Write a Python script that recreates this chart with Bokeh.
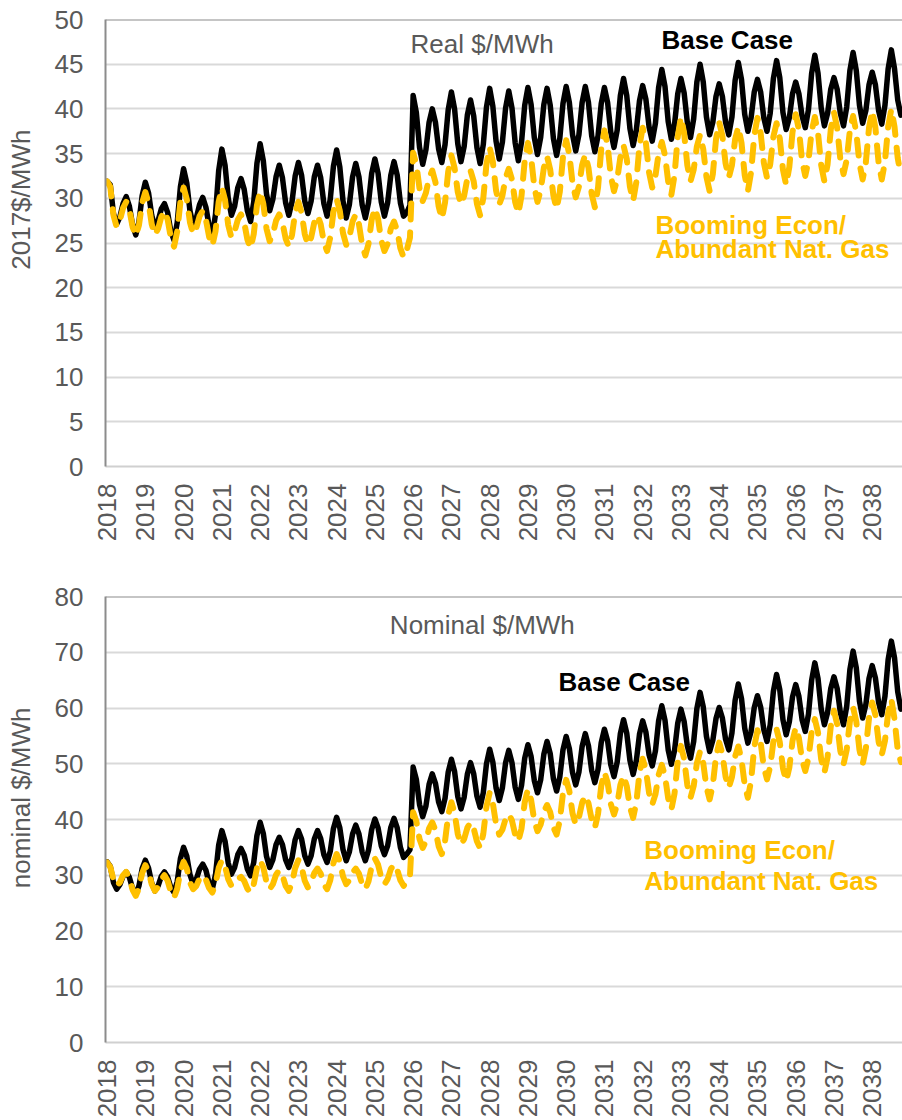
from math import pi
from bokeh.plotting import figure
from bokeh.layouts import column
from bokeh.models import Range1d, FixedTicker, Label, Span
from bokeh.embed import file_html
from bokeh.resources import INLINE

# ---------------- data (monthly, Jan 2018 .. Oct 2038) ----------------
years = ["2018", "2019", "2020", "2021", "2022", "2023", "2024", "2025", "2026", "2027",
         "2028", "2029", "2030", "2031", "2032", "2033", "2034", "2035", "2036", "2037", "2038"]

base_real = [
    31.9, 31.5, 28.3, 27.1, 27.9, 29.4, 30.2, 29.1, 27.0, 25.9, 27.4, 30.3,
    31.8, 30.6, 28.1, 26.8, 27.5, 28.8, 29.4, 28.4, 26.3, 25.3, 27.3, 31.3,
    33.3, 31.7, 28.6, 27.0, 27.8, 29.3, 30.1, 29.0, 26.9, 25.8, 28.2, 33.1,
    35.5, 33.7, 30.0, 28.1, 29.1, 31.2, 32.2, 31.0, 28.6, 27.4, 29.6, 33.9,
    36.1, 34.2, 30.5, 28.6, 29.9, 32.4, 33.7, 32.3, 29.5, 28.1, 29.6, 32.5,
    34.0, 32.6, 29.7, 28.3, 29.7, 32.4, 33.7, 32.3, 29.4, 28.0, 29.9, 33.6,
    35.4, 33.5, 29.7, 27.8, 29.3, 32.4, 33.9, 32.4, 29.3, 27.8, 29.5, 32.8,
    34.4, 32.8, 29.6, 28.0, 29.5, 32.6, 34.1, 32.6, 29.5, 28.0, 28.4, 29.2,
    41.5, 39.6, 35.7, 33.8, 35.4, 38.5, 40.0, 38.5, 35.5, 34.0, 36.0, 39.9,
    41.9, 40.0, 36.1, 34.1, 35.8, 39.3, 41.0, 39.2, 35.7, 33.9, 36.0, 40.2,
    42.3, 40.3, 36.4, 34.4, 36.3, 40.1, 42.0, 40.1, 36.2, 34.2, 36.3, 40.4,
    42.4, 40.5, 36.8, 34.9, 36.8, 40.5, 42.3, 40.4, 36.7, 34.8, 36.7, 40.6,
    42.5, 40.7, 37.1, 35.3, 37.1, 40.7, 42.5, 40.7, 37.0, 35.2, 37.0, 40.6,
    42.4, 40.7, 37.4, 35.7, 37.6, 41.5, 43.4, 41.5, 37.8, 35.9, 37.6, 40.9,
    42.6, 41.1, 38.0, 36.4, 38.4, 42.4, 44.4, 42.5, 38.6, 36.6, 38.3, 41.7,
    43.4, 41.8, 38.5, 36.8, 38.9, 43.0, 45.0, 43.0, 39.1, 37.1, 38.5, 41.4,
    42.8, 41.4, 38.5, 37.1, 39.1, 43.2, 45.2, 43.3, 39.4, 37.5, 39.0, 41.9,
    43.3, 41.9, 39.0, 37.5, 39.5, 43.4, 45.4, 43.5, 39.6, 37.7, 39.0, 41.7,
    43.0, 41.7, 39.2, 37.9, 39.9, 44.0, 46.0, 44.0, 40.1, 38.1, 39.5, 42.2,
    43.5, 42.2, 39.5, 38.1, 40.2, 44.3, 46.3, 44.3, 40.4, 38.4, 39.8, 42.7,
    44.1, 42.7, 39.8, 38.3, 40.4, 44.5, 46.6, 44.5, 41.0, 39.3,
]

boom_real = [
    31.9, 31.3, 28.1, 26.8, 27.5, 28.9, 29.6, 28.7, 26.8, 25.8, 27.0, 29.5,
    30.7, 29.5, 27.1, 25.9, 26.6, 27.9, 28.6, 27.6, 25.6, 24.6, 26.3, 29.6,
    31.2, 29.9, 27.3, 26.0, 26.7, 28.0, 28.6, 27.6, 25.7, 24.7, 26.3, 29.6,
    31.2, 29.8, 27.0, 25.6, 26.3, 27.6, 28.2, 27.3, 25.4, 24.4, 26.0, 29.2,
    30.8, 29.4, 26.6, 25.2, 26.0, 27.5, 28.2, 27.3, 25.5, 24.6, 25.9, 28.4,
    29.6, 28.4, 26.0, 24.8, 25.6, 27.3, 28.1, 27.1, 25.1, 24.1, 25.6, 28.5,
    29.9, 28.6, 26.1, 24.8, 25.7, 27.4, 28.2, 27.1, 24.8, 23.6, 24.9, 27.6,
    28.9, 27.7, 25.3, 24.1, 24.9, 26.6, 27.4, 26.4, 24.4, 23.4, 24.2, 25.6,
    35.1, 33.8, 31.1, 29.7, 30.6, 32.3, 33.1, 31.8, 29.1, 27.7, 29.5, 33.0,
    34.8, 33.4, 30.7, 29.3, 30.3, 32.2, 33.1, 31.9, 29.4, 28.1, 30.0, 33.8,
    35.7, 34.1, 30.9, 29.3, 30.3, 32.3, 33.3, 32.1, 29.6, 28.3, 30.3, 34.2,
    36.2, 34.6, 31.3, 29.6, 30.9, 33.4, 34.7, 33.2, 30.3, 28.8, 30.7, 34.6,
    36.5, 34.9, 31.7, 30.1, 31.3, 33.7, 34.9, 33.4, 30.5, 29.0, 31.2, 35.5,
    37.6, 35.9, 32.5, 30.8, 32.1, 34.6, 35.9, 34.4, 31.3, 29.7, 31.8, 35.9,
    37.9, 36.2, 32.9, 31.2, 32.5, 35.0, 36.3, 34.8, 31.9, 30.4, 32.6, 36.9,
    39.1, 37.3, 33.7, 31.9, 33.2, 35.8, 37.1, 35.5, 32.4, 30.8, 32.7, 36.6,
    38.5, 37.0, 33.9, 32.3, 33.7, 36.6, 38.0, 36.2, 32.6, 30.8, 32.9, 37.0,
    39.0, 37.3, 34.0, 32.3, 33.8, 36.9, 38.4, 36.7, 33.2, 31.5, 33.5, 37.4,
    39.4, 37.7, 34.2, 32.5, 34.2, 37.5, 39.1, 37.3, 33.7, 31.9, 33.8, 37.7,
    39.6, 37.9, 34.4, 32.7, 34.3, 37.6, 39.2, 37.4, 33.9, 32.1, 34.0, 37.9,
    39.8, 37.9, 34.0, 32.1, 34.1, 38.0, 40.0, 38.0, 34.5, 32.5,
]

base_nominal = [
    32.4, 31.6, 28.7, 27.5, 28.3, 29.8, 30.6, 29.6, 27.6, 26.6, 28.1, 31.2,
    32.7, 31.3, 28.6, 27.2, 28.1, 29.8, 30.6, 29.7, 27.8, 26.9, 28.9, 33.0,
    35.0, 33.4, 30.1, 28.4, 29.3, 31.1, 32.0, 30.9, 28.6, 27.5, 30.1, 35.4,
    38.0, 36.1, 32.2, 30.2, 31.4, 33.7, 34.8, 33.6, 31.1, 29.9, 32.3, 37.1,
    39.5, 37.5, 33.4, 31.4, 32.8, 35.5, 36.8, 35.5, 32.8, 31.4, 33.1, 36.4,
    38.0, 36.5, 33.5, 32.0, 33.5, 36.5, 38.0, 36.6, 33.7, 32.3, 34.3, 38.4,
    40.4, 38.5, 34.6, 32.6, 34.2, 37.4, 39.0, 37.4, 34.2, 32.6, 34.5, 38.2,
    40.1, 38.5, 35.3, 33.7, 35.3, 38.6, 40.2, 38.5, 35.0, 33.2, 33.8, 34.6,
    49.4, 47.2, 42.7, 40.5, 42.4, 46.3, 48.2, 46.5, 43.1, 41.4, 43.8, 48.5,
    50.8, 48.6, 44.1, 41.9, 44.0, 48.1, 50.2, 48.2, 44.2, 42.2, 44.8, 50.0,
    52.6, 50.3, 45.7, 43.4, 45.7, 50.2, 52.4, 50.2, 45.8, 43.6, 46.1, 51.0,
    53.4, 51.3, 47.0, 44.8, 47.1, 51.7, 54.0, 51.8, 47.3, 45.1, 47.6, 52.5,
    54.9, 52.7, 48.4, 46.2, 48.5, 53.1, 55.4, 53.2, 48.8, 46.6, 49.0, 53.8,
    56.2, 54.1, 49.8, 47.7, 50.3, 55.4, 57.9, 55.5, 50.6, 48.1, 50.5, 55.3,
    57.7, 55.7, 51.6, 49.6, 52.3, 57.7, 60.4, 57.8, 52.5, 49.9, 52.4, 57.3,
    59.8, 57.6, 53.2, 51.0, 54.0, 59.9, 62.8, 60.2, 54.9, 52.2, 54.2, 58.1,
    60.1, 58.2, 54.4, 52.5, 55.5, 61.4, 64.3, 61.7, 56.4, 53.7, 55.8, 60.1,
    62.2, 60.2, 56.1, 54.0, 57.0, 63.0, 66.0, 63.3, 57.9, 55.2, 57.5, 62.0,
    64.2, 62.1, 57.9, 55.8, 58.9, 65.0, 68.1, 65.3, 59.8, 57.0, 59.2, 63.5,
    65.6, 63.5, 59.2, 57.0, 60.3, 66.9, 70.2, 67.2, 61.2, 58.2, 60.6, 65.3,
    67.6, 65.4, 61.0, 58.8, 62.1, 68.7, 72.0, 69.0, 62.9, 59.8,
]

boom_nominal = [
    32.3, 31.5, 29.2, 28.1, 28.7, 30.0, 30.6, 29.5, 27.4, 26.3, 27.7, 30.4,
    31.8, 30.7, 28.4, 27.2, 27.9, 29.3, 30.0, 29.0, 27.0, 26.0, 27.6, 30.8,
    32.4, 31.2, 28.7, 27.5, 28.1, 29.4, 30.0, 29.2, 27.7, 26.9, 28.4, 31.3,
    32.7, 31.6, 29.3, 28.1, 28.5, 29.3, 29.7, 29.0, 27.6, 26.9, 28.4, 31.3,
    32.7, 31.4, 28.8, 27.5, 28.4, 30.1, 30.9, 30.0, 28.1, 27.2, 28.6, 31.3,
    32.7, 31.5, 29.0, 27.8, 28.7, 30.4, 31.2, 30.3, 28.4, 27.5, 29.1, 32.2,
    33.8, 32.5, 29.8, 28.4, 29.1, 30.5, 31.2, 30.3, 28.4, 27.5, 28.9, 31.6,
    33.0, 31.9, 29.6, 28.4, 29.3, 31.1, 32.0, 31.0, 29.1, 28.1, 28.8, 29.8,
    41.3, 39.7, 36.5, 34.9, 36.1, 38.4, 39.5, 38.1, 35.2, 33.8, 36.1, 40.8,
    43.1, 41.2, 37.4, 35.5, 36.5, 38.5, 39.5, 38.4, 36.1, 34.9, 37.4, 42.3,
    44.8, 42.9, 39.2, 37.3, 38.2, 40.1, 41.0, 39.8, 37.3, 36.1, 38.4, 43.1,
    45.4, 43.5, 39.8, 37.9, 39.1, 41.4, 42.6, 41.3, 38.6, 37.3, 39.8, 44.7,
    47.1, 45.1, 41.1, 39.1, 40.4, 43.0, 44.3, 42.9, 40.0, 38.5, 41.0, 46.0,
    48.5, 46.6, 42.8, 40.9, 42.7, 46.2, 47.9, 46.0, 42.2, 40.3, 43.0, 48.3,
    50.9, 48.9, 44.8, 42.7, 44.5, 48.0, 49.8, 47.8, 43.8, 41.8, 44.7, 50.4,
    53.2, 50.9, 46.2, 43.9, 46.0, 50.1, 52.2, 50.1, 45.8, 43.6, 46.2, 51.3,
    53.8, 51.8, 47.7, 45.7, 47.6, 51.3, 53.1, 50.8, 46.2, 43.9, 46.9, 53.0,
    56.0, 53.8, 49.4, 47.2, 49.5, 54.0, 56.2, 53.9, 49.2, 46.9, 49.3, 54.1,
    56.5, 54.6, 50.7, 48.7, 51.0, 55.7, 58.0, 55.6, 50.8, 48.4, 51.2, 56.7,
    59.5, 57.1, 52.3, 49.9, 52.5, 57.6, 60.1, 57.6, 52.5, 49.9, 52.7, 58.2,
    61.0, 58.7, 54.0, 51.6, 54.1, 59.1, 61.6, 58.0, 52.5, 50.3,
]

month_index = list(range(len(base_real)))
year_ticks = [12 * k for k in range(len(years))]

# ---------------- styling ----------------
FONT = "Liberation Sans"
GRAY_TXT = "#595959"
GOLD = "#FFC000"
FS = "26px"
NB = "\u00a0"


def make_panel(height, border_left, border_top, border_bottom, ymax, ystep,
               ylabel, title_txt, title_pos, base_pos, boom_pos,
               base_y, boom_y, x_standoff):
    p = figure(width=902, height=height, output_backend="svg", toolbar_location=None,
               x_range=Range1d(-0.5, len(base_y) - 0.5), y_range=Range1d(0, ymax),
               min_border_left=border_left, min_border_right=0,
               min_border_top=border_top, min_border_bottom=border_bottom)
    p.outline_line_color = None
    p.background_fill_color = "white"
    p.border_fill_color = "white"
    p.xgrid.visible = False
    p.ygrid.grid_line_color = "#D9D9D9"
    p.ygrid.grid_line_width = 2
    p.yaxis.ticker = FixedTicker(ticks=list(range(0, ymax + 1, ystep)))
    p.xaxis.ticker = FixedTicker(ticks=year_ticks)
    p.xaxis.major_label_overrides = {t: y for t, y in zip(year_ticks, years)}
    p.xaxis.major_label_orientation = pi / 2
    for ax in (p.xaxis[0], p.yaxis[0]):
        ax.major_tick_out = 0
        ax.major_tick_in = 0
        ax.minor_tick_out = 0
        ax.minor_tick_in = 0
        ax.major_label_text_font = FONT
        ax.major_label_text_font_size = FS
        ax.major_label_text_color = GRAY_TXT
    p.yaxis.axis_line_color = "#8C8C8C"
    p.yaxis.axis_line_width = 2
    p.yaxis.major_label_standoff = 22
    p.yaxis.axis_label = ylabel
    p.yaxis.axis_label_standoff = 16
    p.yaxis.axis_label_text_font = FONT
    p.yaxis.axis_label_text_font_size = FS
    p.yaxis.axis_label_text_font_style = "normal"
    p.yaxis.axis_label_text_color = GRAY_TXT
    p.xaxis.axis_line_color = "#D0D0D0"
    p.xaxis.axis_line_width = 2
    p.xaxis.major_label_standoff = x_standoff

    p.add_layout(Span(location=ymax, dimension="width", line_color="#8C8C8C", line_width=2))

    p.line(month_index[:len(base_y)], base_y, line_color="black", line_width=5.5,
           line_join="round", line_cap="round")
    p.line(month_index[:len(boom_y)], boom_y, line_color=GOLD, line_width=6,
           line_dash="16 13", line_join="round", line_cap="round")

    p.add_layout(Label(x=title_pos[0], y=title_pos[1], text=title_txt,
                       text_align="left", text_baseline="alphabetic",
                       text_font=FONT, text_font_size=FS, text_color=GRAY_TXT))
    p.add_layout(Label(x=base_pos[0], y=base_pos[1], text="Base Case",
                       text_align="left", text_baseline="alphabetic",
                       text_font=FONT, text_font_size=FS, text_font_style="bold",
                       text_color="black"))
    p.add_layout(Label(x=boom_pos[0], y=boom_pos[1], text="Booming Econ/",
                       text_align="left", text_baseline="alphabetic",
                       text_font=FONT, text_font_size=FS, text_font_style="bold",
                       text_color=GOLD))
    p.add_layout(Label(x=boom_pos[0], y=boom_pos[2], text="Abundant Nat. Gas",
                       text_align="left", text_baseline="alphabetic",
                       text_font=FONT, text_font_size=FS, text_font_style="bold",
                       text_color=GOLD))
    return p


p1 = make_panel(565, 105, 19, 99, 50, 5, NB * 12 + "2017$/MWh",
                "Real $/MWh", (95.2, 47.25), (173.9, 47.71), (172.0, 27.01, 24.33),
                base_real, boom_real, 17)
p2 = make_panel(555, 103, 31, 77, 80, 10, NB * 6 + "nominal $/MWh",
                "Nominal $/MWh", (88.7, 74.85), (141.6, 64.65), (168.5, 34.55, 29.05),
                base_nominal, boom_nominal, 17)

layout = column(p1, p2, spacing=0)
open("out.html", "w").write(file_html(layout, INLINE))
